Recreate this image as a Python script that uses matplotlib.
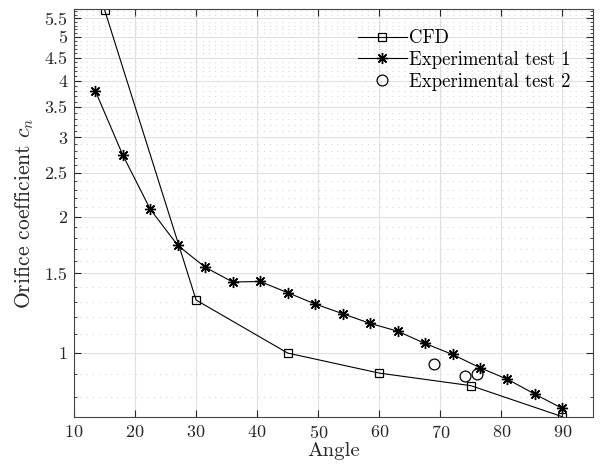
import matplotlib
matplotlib.use("Agg")
import matplotlib.pyplot as plt
from matplotlib.ticker import FixedLocator, FixedFormatter, NullFormatter

plt.rcParams['font.family'] = 'serif'
plt.rcParams['font.serif'] = ['cmr10']
plt.rcParams['mathtext.fontset'] = 'cm'
plt.rcParams['axes.formatter.use_mathtext'] = True

cfd_angle = [15, 30, 45, 60, 75, 90]
cfd_cn = [5.75, 1.31, 1.0, 0.903, 0.847, 0.723]

exp1_angle = [13.5, 18, 22.5, 27, 31.5, 36, 40.5, 45, 49.5, 54, 58.5, 63, 67.5, 72, 76.5, 81, 85.5, 90]
exp1_cn = [3.80, 2.74, 2.08, 1.73, 1.548, 1.436, 1.44, 1.36, 1.284, 1.222, 1.163, 1.118, 1.05, 0.993, 0.928, 0.875, 0.811, 0.754]

exp2_angle = [69, 74, 76]
exp2_cn = [0.947, 0.889, 0.898]

y_major = [1, 1.5, 2, 2.5, 3, 3.5, 4, 4.5, 5, 5.5]
y_major_labels = ['1', '1.5', '2', '2.5', '3', '3.5', '4', '4.5', '5', '5.5']
x_ticks = [10, 20, 30, 40, 50, 60, 70, 80, 90]

fig = plt.figure(figsize=(6.0, 4.72), dpi=100)
ax = fig.add_axes([0.1233, 0.1165, 0.8650, 0.8645])

tc = '#262626'
ax.plot(cfd_angle, cfd_cn, color='black', lw=0.8, marker='s', ms=5.8,
        mfc='none', mec='black', mew=0.9, label='CFD')
ax.plot(exp1_angle, exp1_cn, color='black', lw=0.8, marker=(8, 2, 0), ms=8,
        mec='black', mew=1.0, label='Experimental test 1')
ax.plot(exp2_angle, exp2_cn, ls='none', marker='o', ms=7.8,
        mfc='none', mec='black', mew=0.9, label='Experimental test 2')

ax.set_yscale('log')
ax.set_xlim(10, 95)
ax.set_ylim(0.722, 5.77)

ax.yaxis.set_major_locator(FixedLocator(y_major))
ax.yaxis.set_major_formatter(FixedFormatter(y_major_labels))
minor = [v / 10 for v in range(8, 58) if v % 5 != 0 and v != 10]
ax.yaxis.set_minor_locator(FixedLocator(minor))
ax.yaxis.set_minor_formatter(NullFormatter())
ax.xaxis.set_major_locator(FixedLocator(x_ticks))
ax.xaxis.set_minor_locator(FixedLocator([]))

ax.grid(True, which='major', color='#e0e0e0', lw=0.8)
ax.grid(True, which='minor', axis='y', color='#d8d8d8', lw=0.8, ls=(0, (1, 4.5)))
ax.set_axisbelow(True)

ax.tick_params(which='both', direction='in', top=True, right=True, colors=tc,
               labelsize=13, labelcolor=tc)
ax.tick_params(which='major', length=5, width=0.8, pad=5)
ax.tick_params(which='minor', length=2.5, width=0.6)
for s in ax.spines.values():
    s.set_color('#444444')
    s.set_linewidth(0.8)

ax.set_xlabel('Angle', fontsize=15, color=tc, labelpad=1)
ax.set_ylabel('Orifice coefficient $c_n$', fontsize=15.5, color=tc, labelpad=6)

leg = ax.legend(loc='upper left', bbox_to_anchor=(0.547, 0.95), frameon=False,
                fontsize=13.5, handlelength=2.6, handletextpad=0.15,
                labelspacing=0.2, borderaxespad=0, borderpad=0)

fig.savefig('out.png', dpi=100)
